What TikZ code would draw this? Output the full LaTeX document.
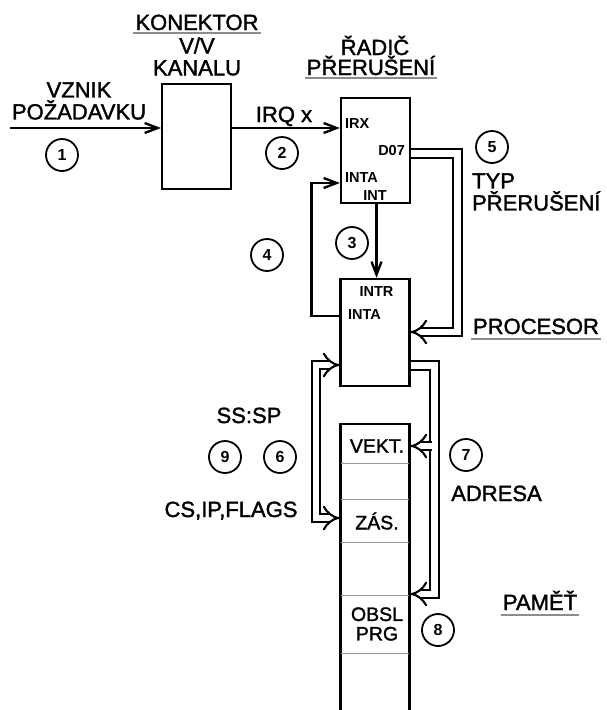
\documentclass[tikz,border=0pt]{standalone}
\usepackage{fontspec}
\setmainfont{Liberation Sans}
\newfontfamily\heavyfont[FakeBold=1.6]{Liberation Sans}
\usetikzlibrary{arrows.meta,positioning}

\begin{document}
\begin{tikzpicture}[x=1pt, y=-1pt, line width=2.3pt,
  box/.style={draw, rectangle, minimum width=69pt, inner sep=0pt},
  lbl/.style={font=\heavyfont\fontsize{22}{22}\selectfont, align=center, inner sep=1pt},
  pin/.style={font=\bfseries\fontsize{14.5}{15}\selectfont, inner sep=1pt},
  cell/.style={font=\heavyfont\fontsize{19.5}{19.5}\selectfont, align=center, inner sep=0pt},
  num/.style={draw, circle, minimum size=32pt, inner sep=0pt, line width=1.8pt, font=\bfseries\fontsize{16}{16}\selectfont},
  arr/.style={-{Straight Barb[length=13pt,width=10pt]}},
  dbl/.style={double, double distance=6.4pt, line width=2.1pt},
  uline/.style={draw=black!45, line width=2pt},
  divider/.style={draw=black!40, line width=1pt, shorten <=1.2pt, shorten >=1.2pt}]
\useasboundingbox (0,0) rectangle (607,710);

\node[box, minimum height=105pt] (konektor) at (196.5,136.5) {};
\node[box, minimum height=105pt] (radic) at (375.5,150.5) {};
\node[box, minimum height=107pt] (procesor) at (375,332.5) {};
\node[box, minimum height=307pt, anchor=north] (pamet) at (375,423) {};
\foreach \y in {463,499,542,595,653}
  \draw[divider] (pamet.west |- 0,\y) -- (pamet.east |- 0,\y);

\node[cell] (vekt) at (377,446) {VEKT.};
\node[cell] (zas) at (377,521) {ZÁS.};
\node[cell] (obsl) at (377,624) {OBSL\\PRG};

\node[pin, anchor=base west] (irx) at (343,128) {IRX};
\node[pin, anchor=base east] (d07) at (407,155) {D07};
\node[pin, anchor=base west] (intaR) at (343,182) {INTA};
\node[pin, anchor=base] (int) at (375,200) {INT};
\node[pin, anchor=base] (intr) at (376.5,296) {INTR};
\node[pin, anchor=base west] (intaP) at (346,319) {INTA};

\coordinate (vstup) at (10,128);
\draw[arr] (vstup) -- (konektor.west |- vstup);
\draw[arr] (konektor.east |- vstup) -- (radic.west |- vstup);
\draw[arr] (radic.south -| intr) -- (procesor.north -| intr);
\draw[arr] (procesor.west |- 0,316) -- ++(-28,0) |- (radic.west |- 0,183);

\draw[dbl, -{Implies[length=12pt,width=28pt]}] (radic.east |- 0,153.5) -| (457.5,332) -- (procesor.east |- 0,332);
\draw[dbl, {Implies[length=12pt,width=28pt]}-{Implies[length=12pt,width=28pt]}] (procesor.west |- 0,365) -| (316,518) -- (pamet.west |- 0,518);
\draw[dbl, -{Implies[length=12pt,width=28pt]}] (procesor.east |- 0,365.5) -| (434.5,594) -- (pamet.east |- 0,594);
\draw[dbl, -{Implies[length=12pt,width=28pt]}] (431.8,446) -- (pamet.east |- 0,446);

\node[lbl] (vznik) at (79,101) {VZNIK\\POŽADAVKU};
\node[lbl, anchor=base] (konLbl) at (197,30) {KONEKTOR};
\node[lbl] (kanLbl) at (197,56.5) {V/V\\KANALU};
\node[lbl, anchor=base] (radLbl) at (375,55) {ŘADIČ};
\node[lbl, anchor=base] (preLbl) at (371,75) {PŘERUŠENÍ};
\node[lbl, anchor=base] (irqLbl) at (284,122) {IRQ x};
\node[lbl, anchor=west, align=left] (typLbl) at (470,192) {TYP\\PŘERUŠENÍ};
\node[lbl, anchor=base] (procLbl) at (536,334) {PROCESOR};
\node[lbl, anchor=base] (ssLbl) at (249,423) {SS:SP};
\node[lbl, anchor=base] (csLbl) at (231,517) {CS,IP,FLAGS};
\node[lbl, anchor=base] (adrLbl) at (496.5,501) {ADRESA};
\node[lbl, anchor=base] (pametLbl) at (540,610) {PAMĚŤ};

\draw[uline] ([yshift=-3pt]konLbl.base west) -- ([yshift=-3pt]konLbl.base east);
\draw[uline] ([yshift=-2.5pt]preLbl.base west) -- ([yshift=-2.5pt]preLbl.base east);
\draw[uline] ([yshift=-5pt]procLbl.base west) -- ([yshift=-5pt]procLbl.base east);
\draw[uline] ([yshift=-5pt]pametLbl.base west) -- ([yshift=-5pt]pametLbl.base east);

\node[num] (c1) at (62,155) {1};
\node[num] (c2) at (282,153) {2};
\node[num] (c3) at (352,243) {3};
\node[num] (c4) at (267,255) {4};
\node[num] (c5) at (492,147) {5};
\node[num] (c6) at (280,457) {6};
\node[num] (c7) at (466,455) {7};
\node[num] (c8) at (438,630) {8};
\node[num] (c9) at (225,457) {9};
\end{tikzpicture}
\end{document}
